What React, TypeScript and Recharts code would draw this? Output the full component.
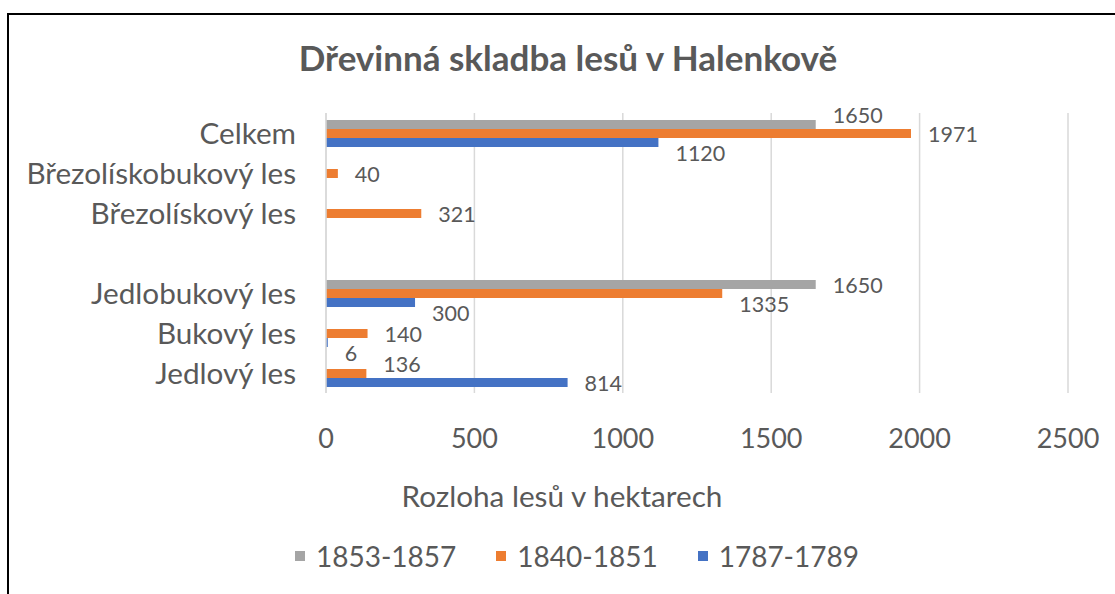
import { BarChart, Bar, XAxis, YAxis, CartesianGrid, LabelList, Legend } from 'recharts'

const categories = ['Celkem', 'Březolískobukový les', 'Březolískový les', '', 'Jedlobukový les', 'Bukový les', 'Jedlový les']
const values1853 = [1650, null, null, null, 1650, null, null]
const values1840 = [1971, 40, 321, null, 1335, 140, 136]
const values1787 = [1120, null, null, null, 300, 6, 814]
const xTicks = [0, 500, 1000, 1500, 2000, 2500]
const seriesKeys = ['s1853', 's1840', 's1787']
const seriesNames = ['1853-1857', '1840-1851', '1787-1789']
const seriesColors = ['#A5A5A5', '#ED7D31', '#4472C4']

const data = categories.map((name, i) => ({
  name,
  s1853: values1853[i],
  s1840: values1840[i],
  s1787: values1787[i],
}))

const FONT = 'Lato, "Open Sans", sans-serif'
const TEXT = '#595959'

const YTick = (props: any) => {
  const { y, payload } = props
  return (
    <text x={296} y={y - 1} textAnchor="end" dominantBaseline="central" fill={TEXT} fontSize={29.7} fontFamily={FONT}>
      {payload.value}
    </text>
  )
}

const XTick = (props: any) => {
  const { x, y, payload } = props
  return (
    <text x={x} y={y + 44} textAnchor="middle" dominantBaseline="central" fill={TEXT} fontSize={27} fontFamily={FONT}>
      {payload.value}
    </text>
  )
}

// labels dodge a longer neighbouring bar, like Excel does
const makeLabel = (si: number) => (props: any) => {
  const { x, y, width, height, value: row } = props
  if (!row || row[seriesKeys[si]] == null) return null
  const v = row[seriesKeys[si]]
  const below = si < 2 ? row[seriesKeys[si + 1]] : null
  const above = si > 0 ? row[seriesKeys[si - 1]] : null
  let shift = 0
  if (below != null && below > v) shift = -10
  else if (above != null && above > v) shift = 10
  return (
    <text
      x={Number(x) + Number(width) + 17}
      y={Number(y) + Number(height) / 2 + shift}
      dominantBaseline="central"
      fill={TEXT}
      fontSize={21.5}
      fontFamily={FONT}
    >
      {v}
    </text>
  )
}

const LegendBox = () => (
  <div style={{ display: 'flex', justifyContent: 'center', height: 34, alignItems: 'center', position: 'relative', left: 43, fontFamily: FONT, fontSize: 28, color: TEXT }}>
    {seriesNames.map((n, i) => (
      <div key={n} style={{ display: 'flex', alignItems: 'center', marginRight: i < 2 ? 40 : 0 }}>
        <span style={{ width: 10, height: 10, background: seriesColors[i], marginRight: 11, display: 'inline-block' }} />
        <span>{n}</span>
      </div>
    ))}
  </div>
)

export default function App() {
  return (
    <div style={{ position: 'absolute', left: 0, top: 0, width: 1115, height: 594, background: '#fff' }}>
      <div style={{ position: 'absolute', left: 7, top: 13, width: 1108, height: 581, borderTop: '2px solid #000', borderLeft: '2px solid #000' }} />
      <div style={{ position: 'absolute', left: 0, width: 1136, top: 36, textAlign: 'center', fontFamily: FONT, fontWeight: 700, fontSize: 35, color: TEXT }}>
        Dřevinná skladba lesů v Halenkově
      </div>
      <div style={{ position: 'absolute', left: 0, top: 0 }}>
        <BarChart
          width={1115}
          height={594}
          data={data}
          layout="vertical"
          margin={{ top: 113, right: 47, bottom: 21, left: 0 }}
          barCategoryGap={7}
          barGap={0}
        >
          <CartesianGrid horizontal={false} stroke="#D9D9D9" strokeWidth={1.5} />
          <XAxis
            type="number"
            domain={[0, 2500]}
            ticks={xTicks}
            axisLine={false}
            tickLine={false}
            tickSize={0}
            tickMargin={0}
            height={146}
            tick={<XTick />}
            label={{
              content: () => (
                <text x={562} y={495} textAnchor="middle" dominantBaseline="central" fill={TEXT} fontSize={29.7} fontFamily={FONT}>
                  Rozloha lesů v hektarech
                </text>
              ),
            }}
          />
          <YAxis
            type="category"
            dataKey="name"
            width={326}
            axisLine={{ stroke: '#D9D9D9', strokeWidth: 1.5 }}
            tickLine={false}
            tick={<YTick />}
            interval={0}
          />
          <Legend verticalAlign="bottom" content={<LegendBox />} />
          {seriesKeys.map((k, i) => (
            <Bar key={k} dataKey={k} name={seriesNames[i]} fill={seriesColors[i]} isAnimationActive={false}>
              <LabelList dataKey={(row: any) => row} content={makeLabel(i)} />
            </Bar>
          ))}
        </BarChart>
      </div>
    </div>
  )
}
